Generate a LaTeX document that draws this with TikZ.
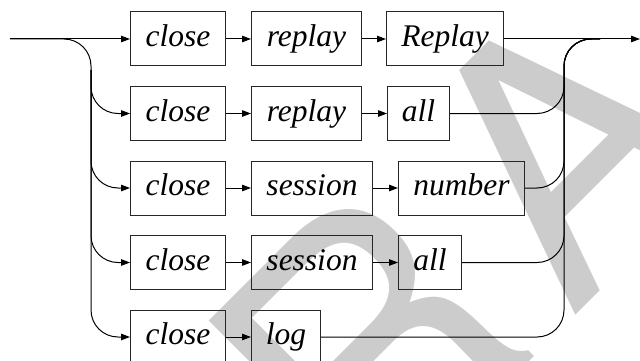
\documentclass[tikz,border=0pt]{standalone}
\usepackage{fontspec}
\setmainfont{Liberation Serif}
\newfontfamily\wmfont[LetterSpace=10.7]{TeX Gyre Heros}
\usetikzlibrary{arrows.meta}
\definecolor{wmgray}{gray}{0.8}
\tikzset{
  wordbox/.style={draw=black!85, line width=1pt, anchor=west, minimum height=54pt,
    inner xsep=2pt, inner ysep=0pt, text height=22pt, text depth=6.9pt,
    font=\fontsize{31.5pt}{36pt}\selectfont\itshape},
  conn/.style={line width=1pt, draw=black},
  flow/.style={conn, -{Triangle[length=9pt,width=6.5pt]}},
  roundbend/.style={rounded corners=27pt},
  watermark/.style={text=wmgray, inner sep=0pt, anchor=base west, rotate=45,
    font=\wmfont\fontsize{350pt}{350pt}\selectfont}
}
\begin{document}
\begin{tikzpicture}[x=1pt,y=-1pt]
\useasboundingbox (0,0) rectangle (640,361);
\clip (0,0) rectangle (640,361);
% watermark
\node[watermark] (wm) at (161,730) {DRAFT};
% row 1
\node[wordbox, minimum width=95pt]  (c1) at (130,39) {close};
\node[wordbox, minimum width=110pt] (r1) at (251,39) {replay};
\node[wordbox, minimum width=117pt] (R1) at (386,39) {Replay};
% row 2
\node[wordbox, minimum width=95pt]  (c2) at (130,113.5) {close};
\node[wordbox, minimum width=110pt] (r2) at (251,113.5) {replay};
\node[wordbox, minimum width=62pt]  (a2) at (387,113.5) {all};
% row 3
\node[wordbox, minimum width=95pt]  (c3) at (130,188) {close};
\node[wordbox, minimum width=121pt] (s3) at (251,188) {session};
\node[wordbox, minimum width=126pt] (n3) at (398,188) {number};
% row 4
\node[wordbox, minimum width=95pt]  (c4) at (130,262.5) {close};
\node[wordbox, minimum width=121pt] (s4) at (251,262.5) {session};
\node[wordbox, minimum width=63pt]  (a4) at (398,262.5) {all};
% row 5
\node[wordbox, minimum width=95pt]  (c5) at (130,337) {close};
\node[wordbox, minimum width=69pt]  (l5) at (251,337) {log};
% coordinates
\coordinate (in) at (10,39);
\coordinate (lbus) at (91,70);
\coordinate (lmid) at (91,200);
\coordinate (rtop) at (564,39);
\coordinate (rjoin) at (600,39);
\coordinate (out) at (640,39);
% left side
\draw[flow] (in) -- (c1.west);
\draw[flow, roundbend] (in) -| (lmid) |- (c5.west);
\draw[flow, roundbend] (lbus) |- (c2.west);
\draw[flow, roundbend] (lbus) |- (c3.west);
\draw[flow, roundbend] (lbus) |- (c4.west);
% inner arrows
\draw[flow] (c1) -- (r1);
\draw[flow] (r1) -- (R1);
\draw[flow] (c2) -- (r2);
\draw[flow] (r2) -- (a2);
\draw[flow] (c3) -- (s3);
\draw[flow] (s3) -- (n3);
\draw[flow] (c4) -- (s4);
\draw[flow] (s4) -- (a4);
\draw[flow] (c5) -- (l5);
% right side
\draw[flow] (R1.east) -- (out);
\draw[conn, roundbend] (a2.east) -| (rtop) -- (rjoin);
\draw[conn, roundbend] (n3.east) -| (rtop) -- (rjoin);
\draw[conn, roundbend] (a4.east) -| (rtop) -- (rjoin);
\draw[conn, roundbend] (l5.east) -| (rtop) -- (rjoin);
\end{tikzpicture}
\end{document}
